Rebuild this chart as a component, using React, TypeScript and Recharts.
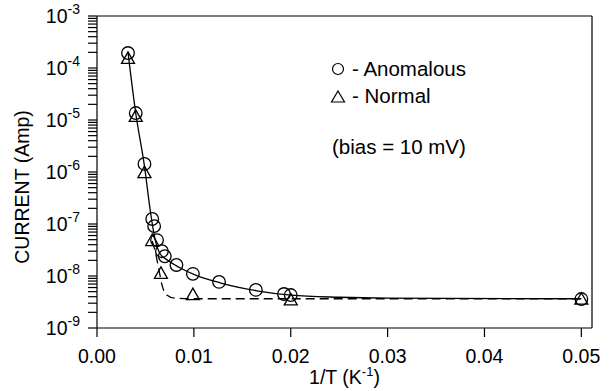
import { ComposedChart, Line, Scatter, XAxis, YAxis } from "recharts";

// 1/T (K^-1) and current (A)
const anomalousX = [0.0032, 0.004, 0.0049, 0.0057, 0.0059, 0.0062, 0.0067, 0.007, 0.0082, 0.0099, 0.0126, 0.0164, 0.0193, 0.02, 0.05];
const anomalousY = [1.94e-4, 1.36e-5, 1.43e-6, 1.25e-7, 9.1e-8, 4.9e-8, 3.0e-8, 2.4e-8, 1.63e-8, 1.1e-8, 7.7e-9, 5.4e-9, 4.5e-9, 4.3e-9, 3.6e-9];

const normalX = [0.0032, 0.004, 0.0049, 0.0057, 0.0066, 0.0099, 0.02, 0.05];
const normalY = [1.5e-4, 1.15e-5, 9.5e-7, 4.7e-8, 1.1e-8, 4.3e-9, 3.4e-9, 3.5e-9];

// solid fit curve (anomalous)
const fitX = [0.0032, 0.004, 0.0049, 0.0055, 0.006, 0.0065, 0.0073, 0.0085, 0.0103, 0.0127, 0.0165, 0.02, 0.025, 0.03, 0.05];
const fitY = [2.0e-4, 1.35e-5, 1.3e-6, 1.8e-7, 5.0e-8, 2.7e-8, 2.0e-8, 1.46e-8, 1.02e-8, 7.4e-9, 5.2e-9, 4.3e-9, 3.9e-9, 3.75e-9, 3.65e-9];

// dashed curve (normal)
const dashX = [0.0057, 0.006, 0.0064, 0.0067, 0.0072, 0.008, 0.01, 0.05];
const dashY = [4.7e-8, 3.0e-8, 1.3e-8, 6.8e-9, 4.3e-9, 3.75e-9, 3.65e-9, 3.65e-9];

const xTicks = [0, 0.01, 0.02, 0.03, 0.04, 0.05];
const decades = [-9, -8, -7, -6, -5, -4, -3];
const mantissas = [1, 2, 3, 4, 5, 6, 7, 8, 9];

const yTicks: number[] = [];
decades.forEach((e) => {
  if (e === -3) {
    yTicks.push(1e-3);
    return;
  }
  mantissas.forEach((m) => yTicks.push(Number((m * Math.pow(10, e)).toPrecision(3))));
});

const zip = (xs: number[], ys: number[]) => xs.map((x, i) => ({ x, y: ys[i] }));
const anomalous = zip(anomalousX, anomalousY);
const normal = zip(normalX, normalY);
const fit = zip(fitX, fitY);
const dash = zip(dashX, dashY);

const FONT = "'Liberation Sans', Arial, sans-serif";

const Circle = (p: any) => (
  <circle cx={p.cx} cy={p.cy} r={6.3} fill="none" stroke="#000" strokeWidth={1.3} />
);

const Triangle = (p: any) => (
  <path
    d={`M${p.cx},${p.cy - 7} L${p.cx + 6.5},${p.cy + 4.5} L${p.cx - 6.5},${p.cy + 4.5} Z`}
    fill="none"
    stroke="#000"
    strokeWidth={1.3}
  />
);

const YTick = ({ x, y, payload }: any) => {
  const v = payload.value;
  const exp = Math.round(Math.log10(v));
  if (Math.abs(v - Math.pow(10, exp)) / v > 1e-6) return <g />;
  return (
    <text x={x} y={y} dy={7} textAnchor="end" fontSize={19.5} fontFamily={FONT} fill="#000">
      10
      <tspan dy={-9} fontSize={14}>
        {"-" + Math.abs(exp)}
      </tspan>
    </text>
  );
};

const XTitle = ({ viewBox }: any) => (
  <text
    x={viewBox.x + viewBox.width / 2}
    y={384}
    textAnchor="middle"
    fontSize={19.5}
    fontFamily={FONT}
    fill="#000"
  >
    1/T (K
    <tspan dy={-8} fontSize={13}>
      -1
    </tspan>
    <tspan dy={8}>)</tspan>
  </text>
);

const YTitle = () => (
  <text
    transform="translate(29,187) rotate(-90)"
    textAnchor="middle"
    fontSize={19.5}
    fontFamily={FONT}
    fill="#000"
  >
    CURRENT (Amp)
  </text>
);

export default function App() {
  const axisStroke = { stroke: "#000", strokeWidth: 1.2 };
  return (
    <div style={{ position: "absolute", left: 0, top: 0, width: 611, height: 391, background: "#fff" }}>
      <ComposedChart width={611} height={391} margin={{ top: 0, right: 0, bottom: 0, left: 0 }}>
        <XAxis
          xAxisId="bottom"
          dataKey="x"
          type="number"
          domain={[0, 0.0511]}
          allowDataOverflow
          ticks={xTicks}
          interval={0}
          height={63}
          tickSize={9}
          tickMargin={12}
          axisLine={axisStroke}
          tickLine={axisStroke}
          tickFormatter={(v: number) => v.toFixed(2)}
          tick={{ fill: "#000", fontSize: 19.5, fontFamily: FONT }}
          label={<XTitle />}
        />
        <XAxis
          xAxisId="top"
          orientation="top"
          dataKey="x"
          type="number"
          domain={[0, 0.0511]}
          allowDataOverflow
          ticks={xTicks}
          interval={0}
          height={16}
          tickSize={10}
          axisLine={axisStroke}
          tickLine={axisStroke}
          tick={false}
        />
        <YAxis
          yAxisId="left"
          dataKey="y"
          scale="log"
          type="number"
          domain={[1e-9, 1e-3]}
          allowDataOverflow
          ticks={yTicks}
          interval={0}
          width={97}
          tickSize={9}
          tickMargin={8}
          axisLine={axisStroke}
          tickLine={axisStroke}
          tick={<YTick />}
          label={<YTitle />}
        />
        <YAxis
          yAxisId="right"
          orientation="right"
          dataKey="y"
          scale="log"
          type="number"
          domain={[1e-9, 1e-3]}
          allowDataOverflow
          ticks={yTicks}
          interval={0}
          width={19}
          tickSize={9}
          axisLine={axisStroke}
          tickLine={axisStroke}
          tick={false}
        />
        <Line
          xAxisId="bottom"
          yAxisId="left"
          data={fit}
          dataKey="y"
          type="monotone"
          stroke="#000"
          strokeWidth={1.3}
          dot={false}
          isAnimationActive={false}
        />
        <Line
          xAxisId="bottom"
          yAxisId="left"
          data={dash}
          dataKey="y"
          type="monotone"
          stroke="#000"
          strokeWidth={1.3}
          strokeDasharray="9 5"
          dot={false}
          isAnimationActive={false}
        />
        <Scatter
          xAxisId="bottom"
          yAxisId="left"
          data={normal}
          dataKey="y"
          shape={Triangle}
          isAnimationActive={false}
        />
        <Scatter
          xAxisId="bottom"
          yAxisId="left"
          data={anomalous}
          dataKey="y"
          shape={Circle}
          isAnimationActive={false}
        />
      </ComposedChart>
      <svg
        width={611}
        height={391}
        style={{ position: "absolute", left: 0, top: 0, pointerEvents: "none" }}
      >
        <g fontFamily={FONT} fontSize={20.5} fill="#000">
          <circle cx={338} cy={69} r={5.5} fill="none" stroke="#000" strokeWidth={1.2} />
          <text x={352} y={76}>- Anomalous</text>
          <path d="M338,91 L344.5,102 L331.5,102 Z" fill="none" stroke="#000" strokeWidth={1.2} />
          <text x={352} y={103}>- Normal</text>
          <text x={332} y={154}>(bias = 10 mV)</text>
        </g>
      </svg>
    </div>
  );
}
